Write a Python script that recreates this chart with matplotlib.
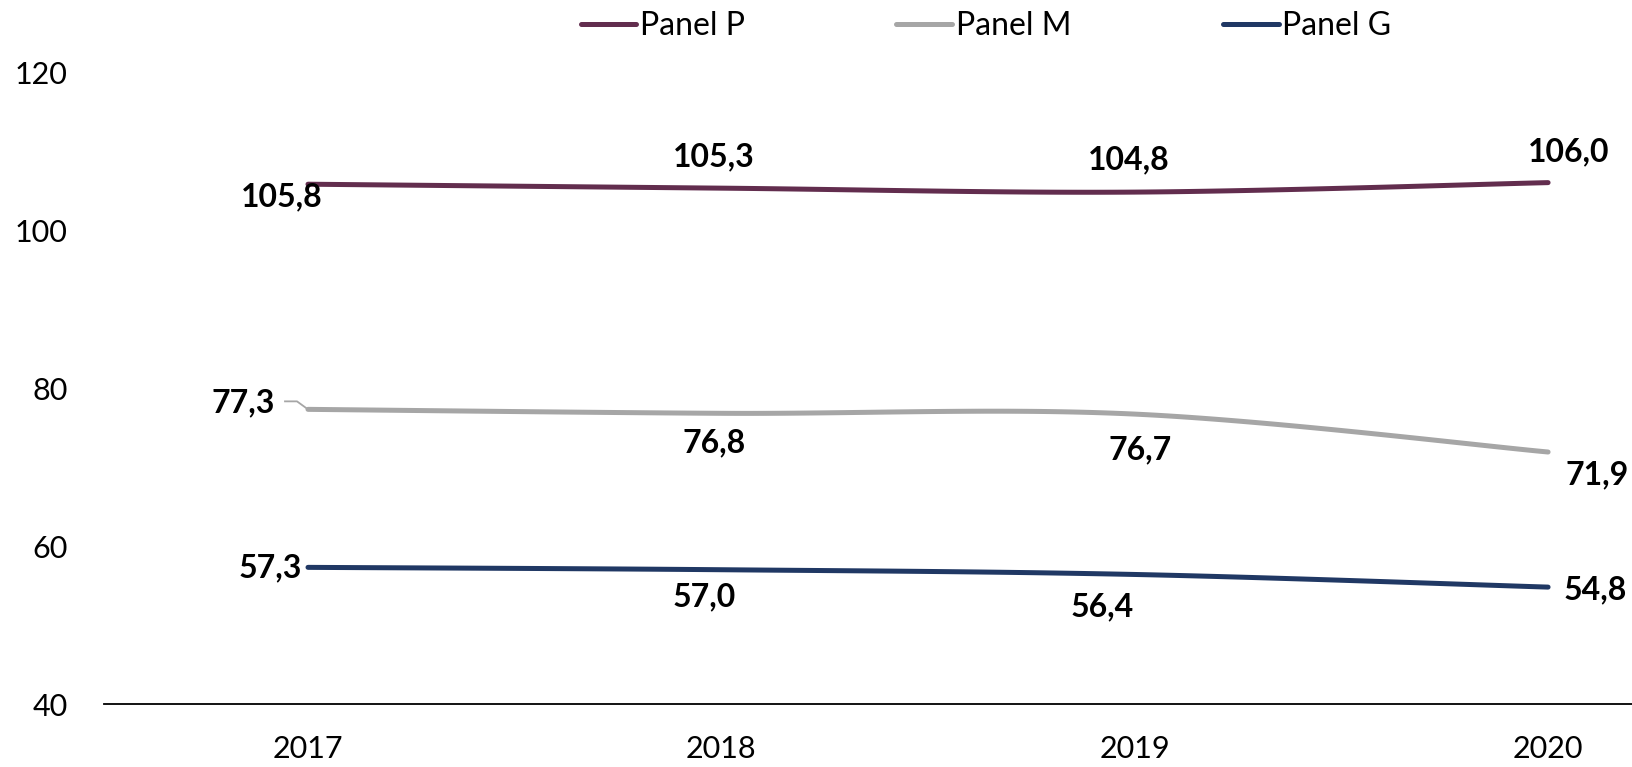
import numpy as np
import matplotlib.pyplot as plt
from matplotlib.lines import Line2D

years = ["2017", "2018", "2019", "2020"]
panel_p = [105.8, 105.3, 104.8, 106.0]
panel_m = [77.3, 76.8, 76.7, 71.9]
panel_g = [57.3, 57.0, 56.4, 54.8]

plt.rcParams['font.family'] = ['Lato', 'DejaVu Sans']


def smooth(x, y, n=40):
    # excel-like smoothed line: cubic bezier segments, catmull-rom control points
    p = np.column_stack([x, y]).astype(float)
    p = np.vstack([p[0], p, p[-1]])
    out = []
    for i in range(1, len(p) - 2):
        p0, p1, p2, p3 = p[i - 1], p[i], p[i + 1], p[i + 2]
        c1 = p1 + (p2 - p0) / 6
        c2 = p2 - (p3 - p1) / 6
        t = np.linspace(0, 1, n)[:, None]
        seg = (1 - t) ** 3 * p1 + 3 * (1 - t) ** 2 * t * c1 + 3 * (1 - t) * t ** 2 * c2 + t ** 3 * p2
        out.append(seg)
    out = np.vstack(out)
    return out[:, 0], out[:, 1]


fig = plt.figure(figsize=(16.32, 7.67), dpi=100)
ax = fig.add_axes([0.0637, 0.0821, 0.9363, 0.824])

x = np.arange(len(years))
series = [
    ("Panel P", panel_p, "#622d4e"),
    ("Panel M", panel_m, "#a6a6a6"),
    ("Panel G", panel_g, "#203864"),
]
for name, vals, col in series:
    sx, sy = smooth(x, vals)
    ax.plot(sx, sy, color=col, lw=3.6, solid_capstyle='round', label=name)

# label offsets in pixels (x right, y up)
offs = {
    "Panel P": [(-26, -13), (-8, 31), (-6, 32), (21, 31)],
    "Panel M": [(-65, 7), (-7, -30), (5, -36), (49, -23)],
    "Panel G": [(-38, 0), (-17, -27), (-33, -32), (47, -3)],
}
for name, vals, col in series:
    for i, v in enumerate(vals):
        dx, dy = offs[name][i]
        lab = f"{v:.1f}".replace(".", ",")
        ax.annotate(lab, (x[i], v), xytext=(dx, dy), textcoords='offset pixels',
                    ha='center', va='center', fontsize=23, fontweight='bold')

ax.set_xlim(-0.4936, 3.203)
ax.set_ylim(40, 120)
ax.set_yticks([40, 60, 80, 100, 120])
ax.set_xticks(x)
ax.set_xticklabels(years)
ax.tick_params(axis='both', length=0, labelsize=22)
ax.tick_params(axis='y', pad=26)
ax.tick_params(axis='x', pad=22)
for s in ['top', 'right', 'left']:
    ax.spines[s].set_visible(False)
ax.spines['bottom'].set_linewidth(1.3)

# leader line for the first grey label, drawn in pixel space
px, py = ax.transData.transform((x[0], panel_m[0]))
lx = [px - 23, px - 11, px]
ly = [py + 8, py + 8, py]
fig.add_artist(Line2D(lx, ly, transform=None, color='#a6a6a6', lw=1.3))

fig.legend(loc='center', bbox_to_anchor=(0.604, 0.966), ncol=3, frameon=False,
           fontsize=23, handlelength=1.75, handletextpad=0.1, columnspacing=4.75)

fig.savefig("out.png", dpi=100)
